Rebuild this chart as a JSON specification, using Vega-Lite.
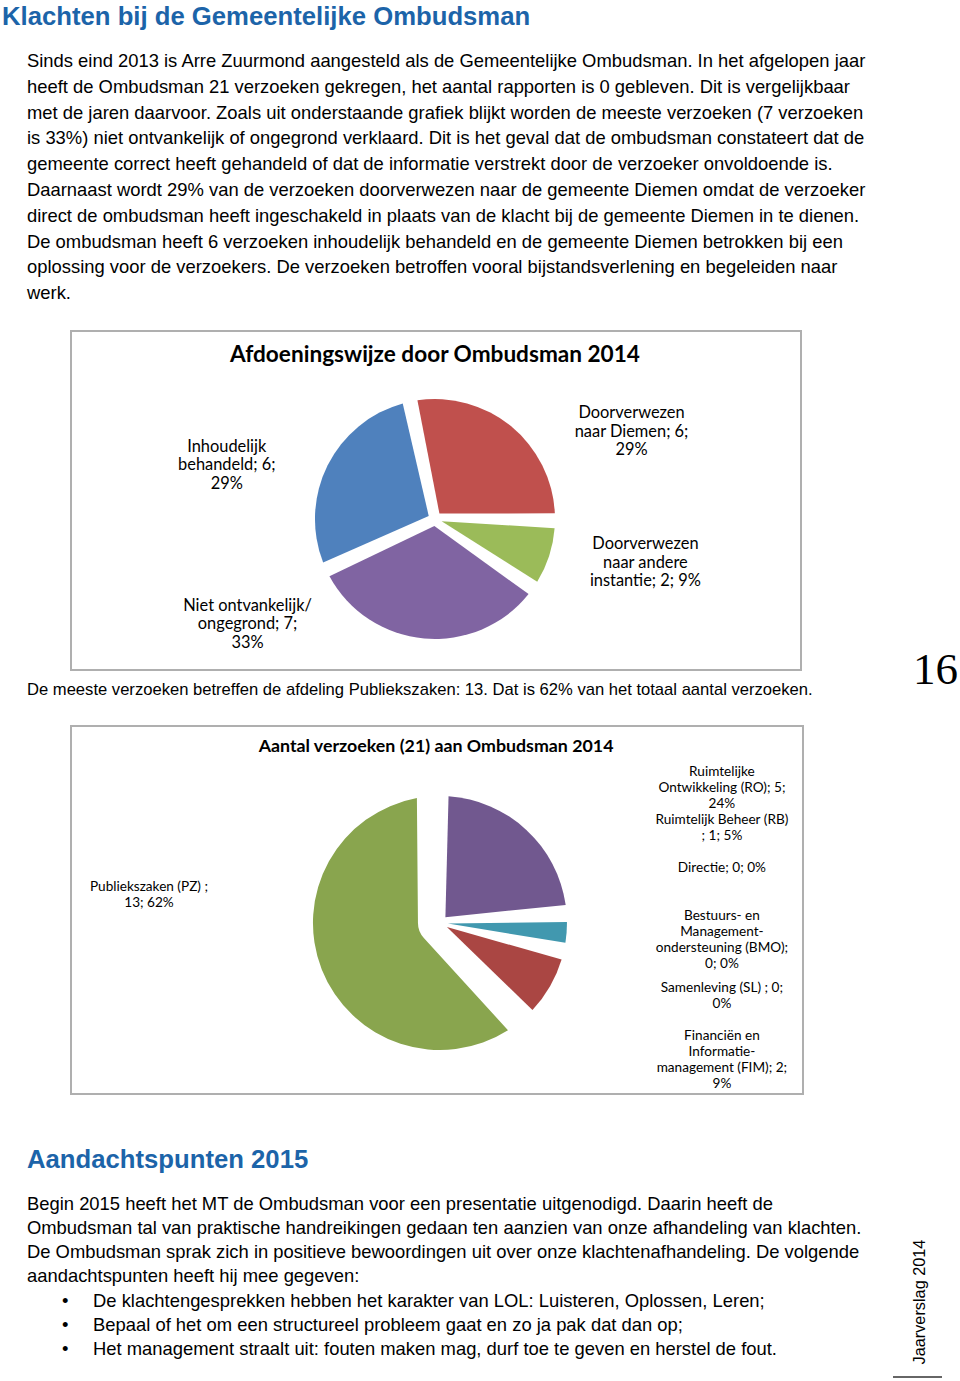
{
  "$schema": "https://vega.github.io/schema/vega-lite/v6.json",
  "background": "white",
  "padding": 0,
  "spacing": 0,
  "bounds": "flush",
  "resolve": {"scale": {"x": "independent", "y": "independent", "color": "independent", "theta": "independent", "opacity": "independent"}},
  "config": {
    "view": {"stroke": null},
    "concat": {"spacing": 0},
    "text": {"font": "Liberation Sans", "color": "#000000"}
  },
  "datasets": {
    "alinea1": [
      {"regel": 1, "tekst": "Sinds eind 2013 is Arre Zuurmond aangesteld als de Gemeentelijke Ombudsman. In het afgelopen jaar"},
      {"regel": 2, "tekst": "heeft de Ombudsman 21 verzoeken gekregen, het aantal rapporten is 0 gebleven. Dit is vergelijkbaar"},
      {"regel": 3, "tekst": "met de jaren daarvoor. Zoals uit onderstaande grafiek blijkt worden de meeste verzoeken (7 verzoeken"},
      {"regel": 4, "tekst": "is 33%) niet ontvankelijk of ongegrond verklaard. Dit is het geval dat de ombudsman constateert dat de"},
      {"regel": 5, "tekst": "gemeente correct heeft gehandeld of dat de informatie verstrekt door de verzoeker onvoldoende is."},
      {"regel": 6, "tekst": "Daarnaast wordt 29% van de verzoeken doorverwezen naar de gemeente Diemen omdat de verzoeker"},
      {"regel": 7, "tekst": "direct de ombudsman heeft ingeschakeld in plaats van de klacht bij de gemeente Diemen in te dienen."},
      {"regel": 8, "tekst": "De ombudsman heeft 6 verzoeken inhoudelijk behandeld en de gemeente Diemen betrokken bij een"},
      {"regel": 9, "tekst": "oplossing voor de verzoekers. De verzoeken betroffen vooral bijstandsverlening en begeleiden naar"},
      {"regel": 10, "tekst": "werk."}
    ],
    "alinea2": [
      {"regel": 1, "soort": "alinea", "tekst": "Begin 2015 heeft het MT de Ombudsman voor een presentatie uitgenodigd. Daarin heeft de"},
      {"regel": 2, "soort": "alinea", "tekst": "Ombudsman tal van praktische handreikingen gedaan ten aanzien van onze afhandeling van klachten."},
      {"regel": 3, "soort": "alinea", "tekst": "De Ombudsman sprak zich in positieve bewoordingen uit over onze klachtenafhandeling. De volgende"},
      {"regel": 4, "soort": "alinea", "tekst": "aandachtspunten heeft hij mee gegeven:"},
      {"regel": 5, "soort": "opsomming", "tekst": "De klachtengesprekken hebben het karakter van LOL: Luisteren, Oplossen, Leren;"},
      {"regel": 6, "soort": "opsomming", "tekst": "Bepaal of het om een structureel probleem gaat en zo ja pak dat dan op;"},
      {"regel": 7, "soort": "opsomming", "tekst": "Het management straalt uit: fouten maken mag, durf toe te geven en herstel de fout."}
    ],
    "afdoening": [
      {"afdoening": "Doorverwezen naar Diemen", "aantal": 6, "volgorde": 1, "label": ["Doorverwezen", "naar Diemen; 6;", "29%"]},
      {"afdoening": "Doorverwezen naar andere instantie", "aantal": 2, "volgorde": 2, "label": ["Doorverwezen", "naar andere", "instantie; 2; 9%"]},
      {"afdoening": "Niet ontvankelijk/ ongegrond", "aantal": 7, "volgorde": 3, "label": ["Niet ontvankelijk/", "ongegrond; 7;", "33%"]},
      {"afdoening": "Inhoudelijk behandeld", "aantal": 6, "volgorde": 4, "label": ["Inhoudelijk", "behandeld; 6;", "29%"]}
    ],
    "verzoeken": [
      {"afdeling": "Ruimtelijke Ontwikkeling (RO)", "aantal": 5, "volgorde": 1, "label": ["Ruimtelijke", "Ontwikkeling (RO); 5;", "24%"]},
      {"afdeling": "Ruimtelijk Beheer (RB)", "aantal": 1, "volgorde": 2, "label": ["Ruimtelijk Beheer (RB)", "; 1; 5%"]},
      {"afdeling": "Directie", "aantal": 0, "volgorde": 3, "label": ["Directie; 0; 0%"]},
      {"afdeling": "Bestuurs- en Managementondersteuning (BMO)", "aantal": 0, "volgorde": 4, "label": ["Bestuurs- en", "Management-", "ondersteuning (BMO);", "0; 0%"]},
      {"afdeling": "Samenleving (SL)", "aantal": 0, "volgorde": 5, "label": ["Samenleving (SL) ; 0;", "0%"]},
      {"afdeling": "Financiën en Informatiemanagement (FIM)", "aantal": 2, "volgorde": 6, "label": ["Financiën en", "Informatie-", "management (FIM); 2;", "9%"]},
      {"afdeling": "Publiekszaken (PZ)", "aantal": 13, "volgorde": 7, "label": ["Publiekszaken (PZ) ;", "13; 62%"]}
    ]
  },
  "vconcat": [
    {
      "width": 960, "height": 32,
      "data": {"values": [{"kop": "Klachten bij de Gemeentelijke Ombudsman"}]},
      "mark": {"type": "text", "align": "left", "baseline": "alphabetic", "fontSize": 25.7, "fontWeight": "bold", "color": "#1C64A9"},
      "encoding": {
        "x": {"datum": 0.0021, "type": "quantitative", "scale": {"domain": [0, 1]}, "axis": null},
        "y": {"datum": 0.219, "type": "quantitative", "scale": {"domain": [0, 1]}, "axis": null},
        "text": {"field": "kop"}
      }
    },
    {
      "width": 960, "height": 274,
      "data": {"name": "alinea1"},
      "mark": {"type": "text", "align": "left", "baseline": "alphabetic", "fontSize": 18.4},
      "encoding": {
        "x": {"datum": 0.028125, "type": "quantitative", "scale": {"domain": [0, 1]}, "axis": null},
        "y": {"field": "regel", "type": "ordinal", "scale": {"type": "point", "padding": 0.81, "align": 0.837}, "axis": null},
        "text": {"field": "tekst"}
      }
    },
    {"width": 960, "height": 25, "data": {"values": []}, "mark": "text"},
    {
      "width": 960, "height": 339,
      "layer": [
        {
          "data": {"values": [{"kader": "grafiek 1"}]},
          "mark": {"type": "rect", "fill": "white", "stroke": "#AFAFAF", "strokeWidth": 2},
          "encoding": {
            "x": {"datum": 0.07396, "type": "quantitative", "scale": {"domain": [0, 1]}, "axis": null},
            "x2": {"datum": 0.83438},
            "y": {"datum": 0, "type": "quantitative", "scale": {"domain": [0, 1]}, "axis": null},
            "y2": {"datum": 1}
          }
        },
        {
          "data": {"name": "afdoening"},
          "mark": {"type": "arc", "outerRadius": 120, "innerRadius": 7, "padAngle": 0.125},
          "encoding": {
            "x": {"datum": 0.4531, "type": "quantitative", "scale": {"domain": [0, 1]}, "axis": null},
            "y": {"datum": 0.4454, "type": "quantitative", "scale": {"domain": [0, 1]}, "axis": null},
            "theta": {"field": "aantal", "type": "quantitative", "stack": true, "scale": {"range": [-0.2094, 6.0738]}},
            "order": {"field": "volgorde", "type": "quantitative"},
            "color": {"field": "afdoening", "type": "nominal", "legend": null,
              "scale": {"domain": ["Doorverwezen naar Diemen", "Doorverwezen naar andere instantie", "Niet ontvankelijk/ ongegrond", "Inhoudelijk behandeld"],
                        "range": ["#C0504D", "#9BBB59", "#8064A2", "#4F81BD"]}}
          }
        },
        {
          "data": {"name": "afdoening"},
          "mark": {"type": "text", "radius": 215, "font": "Lato", "fontSize": 16.4, "lineHeight": 18.5, "align": "center", "baseline": "middle", "dy": -18.5, "color": "#000000"},
          "encoding": {
            "x": {"datum": 0.4531, "type": "quantitative", "scale": {"domain": [0, 1]}, "axis": null},
            "y": {"datum": 0.4454, "type": "quantitative", "scale": {"domain": [0, 1]}, "axis": null},
            "theta": {"field": "aantal", "type": "quantitative", "stack": true,
              "scale": {"domain": [3, 7, 11.5, 18], "range": [1.1537, 1.7768, 4.2000, 4.9643], "zero": false, "nice": false}},
            "order": {"field": "volgorde", "type": "quantitative"},
            "text": {"field": "label"}
          }
        },
        {
          "data": {"values": [{"titel": "Afdoeningswijze door Ombudsman 2014"}]},
          "mark": {"type": "text", "font": "Lato", "fontSize": 22.6, "fontWeight": "bold", "align": "center", "baseline": "alphabetic", "color": "#000000"},
          "encoding": {
            "x": {"datum": 0.4531, "type": "quantitative", "scale": {"domain": [0, 1]}, "axis": null},
            "y": {"datum": 0.9086, "type": "quantitative", "scale": {"domain": [0, 1]}, "axis": null},
            "text": {"field": "titel"}
          }
        }
      ],
      "resolve": {"scale": {"theta": "independent"}}
    },
    {
      "width": 960, "height": 56,
      "layer": [
        {
          "data": {"values": [{"zin": "De meeste verzoeken betreffen de afdeling Publiekszaken: 13. Dat is 62% van het totaal aantal verzoeken."}]},
          "mark": {"type": "text", "align": "left", "baseline": "alphabetic", "fontSize": 16.6},
          "encoding": {
            "x": {"datum": 0.028125, "type": "quantitative", "scale": {"domain": [0, 1]}, "axis": null},
            "y": {"datum": 0.554, "type": "quantitative", "scale": {"domain": [0, 1]}, "axis": null},
            "text": {"field": "zin"}
          }
        },
        {
          "data": {"values": [{"pagina": "16"}]},
          "mark": {"type": "text", "align": "right", "baseline": "alphabetic", "font": "Liberation Serif", "fontSize": 45},
          "encoding": {
            "x": {"datum": 0.998, "type": "quantitative", "scale": {"domain": [0, 1]}, "axis": null},
            "y": {"datum": 0.75, "type": "quantitative", "scale": {"domain": [0, 1]}, "axis": null},
            "text": {"field": "pagina"}
          }
        }
      ]
    },
    {
      "width": 960, "height": 368,
      "layer": [
        {
          "data": {"values": [{"kader": "grafiek 2"}]},
          "mark": {"type": "rect", "fill": "white", "stroke": "#AFAFAF", "strokeWidth": 2},
          "encoding": {
            "x": {"datum": 0.07396, "type": "quantitative", "scale": {"domain": [0, 1]}, "axis": null},
            "x2": {"datum": 0.83646},
            "y": {"datum": 0, "type": "quantitative", "scale": {"domain": [0, 1]}, "axis": null},
            "y2": {"datum": 1}
          }
        },
        {
          "data": {"name": "verzoeken"},
          "mark": {"type": "arc", "outerRadius": 127, "innerRadius": 8, "padAngle": 0.135},
          "encoding": {
            "x": {"datum": 0.4583, "type": "quantitative", "scale": {"domain": [0, 1]}, "axis": null},
            "y": {"datum": 0.4647, "type": "quantitative", "scale": {"domain": [0, 1]}, "axis": null},
            "theta": {"field": "aantal", "type": "quantitative", "stack": true},
            "order": {"field": "volgorde", "type": "quantitative"},
            "color": {"field": "afdeling", "type": "nominal", "legend": null,
              "scale": {"domain": ["Ruimtelijke Ontwikkeling (RO)", "Ruimtelijk Beheer (RB)", "Directie", "Bestuurs- en Managementondersteuning (BMO)", "Samenleving (SL)", "Financiën en Informatiemanagement (FIM)", "Publiekszaken (PZ)"],
                        "range": ["#71588F", "#4198AF", "#DB843D", "#93A9CF", "#D19392", "#AA4643", "#89A54E"]}},
            "opacity": {"condition": {"test": "datum.afdeling === 'Publiekszaken (PZ)'", "value": 0}, "value": 1}
          }
        },
        {
          "data": {"name": "verzoeken"},
          "mark": {"type": "arc", "outerRadius": 127, "innerRadius": 22, "padAngle": 0.36},
          "encoding": {
            "x": {"datum": 0.4583, "type": "quantitative", "scale": {"domain": [0, 1]}, "axis": null},
            "y": {"datum": 0.4647, "type": "quantitative", "scale": {"domain": [0, 1]}, "axis": null},
            "theta": {"field": "aantal", "type": "quantitative", "stack": true},
            "order": {"field": "volgorde", "type": "quantitative"},
            "color": {"field": "afdeling", "type": "nominal", "legend": null},
            "opacity": {"condition": {"test": "datum.afdeling === 'Publiekszaken (PZ)'", "value": 1}, "value": 0}
          }
        },
        {
          "data": {"name": "verzoeken"},
          "transform": [{"filter": "datum.afdeling !== 'Publiekszaken (PZ)'"}],
          "mark": {"type": "text", "font": "Lato", "fontSize": 13.6, "lineHeight": 16, "align": "center", "baseline": "middle", "color": "#000000"},
          "encoding": {
            "x": {"datum": 0.752, "type": "quantitative", "scale": {"domain": [0, 1]}, "axis": null},
            "y": {"field": "volgorde", "type": "ordinal",
              "scale": {"type": "point", "domain": [0.5, 1, 1.5, 2, 2.5, 3, 3.5, 4, 4.3, 4.6, 5, 5.5, 6, 6.5, 6.8], "padding": 0.667, "align": 0.6875}, "axis": null},
            "text": {"field": "label"}
          }
        },
        {
          "data": {"name": "verzoeken"},
          "transform": [{"filter": "datum.afdeling === 'Publiekszaken (PZ)'"}],
          "mark": {"type": "text", "font": "Lato", "fontSize": 13.6, "lineHeight": 16, "align": "center", "baseline": "middle", "color": "#000000"},
          "encoding": {
            "x": {"datum": 0.1552, "type": "quantitative", "scale": {"domain": [0, 1]}, "axis": null},
            "y": {"datum": 0.5625, "type": "quantitative", "scale": {"domain": [0, 1]}, "axis": null},
            "text": {"field": "label"}
          }
        },
        {
          "data": {"values": [{"titel": "Aantal verzoeken (21) aan Ombudsman 2014"}]},
          "mark": {"type": "text", "font": "Lato", "fontSize": 17.8, "fontWeight": "bold", "align": "center", "baseline": "alphabetic", "color": "#000000"},
          "encoding": {
            "x": {"datum": 0.4542, "type": "quantitative", "scale": {"domain": [0, 1]}, "axis": null},
            "y": {"datum": 0.929, "type": "quantitative", "scale": {"domain": [0, 1]}, "axis": null},
            "text": {"field": "titel"}
          }
        }
      ],
      "resolve": {"scale": {"y": "independent"}}
    },
    {
      "width": 960, "height": 98,
      "data": {"values": [{"kop": "Aandachtspunten 2015"}]},
      "mark": {"type": "text", "align": "left", "baseline": "alphabetic", "fontSize": 25.7, "fontWeight": "bold", "color": "#1C64A9"},
      "encoding": {
        "x": {"datum": 0.028125, "type": "quantitative", "scale": {"domain": [0, 1]}, "axis": null},
        "y": {"datum": 0.245, "type": "quantitative", "scale": {"domain": [0, 1]}, "axis": null},
        "text": {"field": "kop"}
      }
    },
    {
      "width": 960, "height": 169,
      "layer": [
        {
          "data": {"name": "alinea2"},
          "transform": [{"filter": "datum.soort === 'alinea'"}],
          "mark": {"type": "text", "align": "left", "baseline": "alphabetic", "fontSize": 18.4},
          "encoding": {
            "x": {"datum": 0.028125, "type": "quantitative", "scale": {"domain": [0, 1]}, "axis": null},
            "y": {"field": "regel", "type": "ordinal", "scale": {"type": "point", "domain": [1, 2, 3, 4, 5, 6, 7], "padding": 0.4965, "align": 0.75}, "axis": null},
            "text": {"field": "tekst"}
          }
        },
        {
          "data": {"name": "alinea2"},
          "transform": [{"filter": "datum.soort === 'opsomming'"}],
          "mark": {"type": "text", "align": "left", "baseline": "alphabetic", "fontSize": 18.4},
          "encoding": {
            "x": {"datum": 0.0969, "type": "quantitative", "scale": {"domain": [0, 1]}, "axis": null},
            "y": {"field": "regel", "type": "ordinal", "scale": {"type": "point", "domain": [1, 2, 3, 4, 5, 6, 7], "padding": 0.4965, "align": 0.75}, "axis": null},
            "text": {"field": "tekst"}
          }
        },
        {
          "data": {"name": "alinea2"},
          "transform": [{"filter": "datum.soort === 'opsomming'"}],
          "mark": {"type": "text", "align": "left", "baseline": "alphabetic", "fontSize": 18.4},
          "encoding": {
            "x": {"datum": 0.0646, "type": "quantitative", "scale": {"domain": [0, 1]}, "axis": null},
            "y": {"field": "regel", "type": "ordinal", "scale": {"type": "point", "domain": [1, 2, 3, 4, 5, 6, 7], "padding": 0.4965, "align": 0.75}, "axis": null},
            "text": {"value": "\u2022"}
          }
        },
        {
          "data": {"values": [{"tekst": "Jaarverslag 2014"}]},
          "mark": {"type": "text", "angle": 270, "align": "center", "baseline": "middle", "fontSize": 16.3},
          "encoding": {
            "x": {"datum": 0.9583, "type": "quantitative", "scale": {"domain": [0, 1]}, "axis": null},
            "y": {"datum": 0.349, "type": "quantitative", "scale": {"domain": [0, 1]}, "axis": null},
            "text": {"field": "tekst"}
          }
        },
        {
          "data": {"values": [{"lijn": "voettekst"}]},
          "mark": {"type": "rule", "color": "#333333", "strokeWidth": 1.5},
          "encoding": {
            "x": {"datum": 0.9302, "type": "quantitative", "scale": {"domain": [0, 1]}, "axis": null},
            "x2": {"datum": 0.98125},
            "y": {"datum": -0.095, "type": "quantitative", "scale": {"domain": [0, 1]}, "axis": null}
          }
        }
      ],
      "resolve": {"scale": {"y": "independent"}}
    },
    {"width": 960, "height": 20, "data": {"values": []}, "mark": "text"}
  ]
}
